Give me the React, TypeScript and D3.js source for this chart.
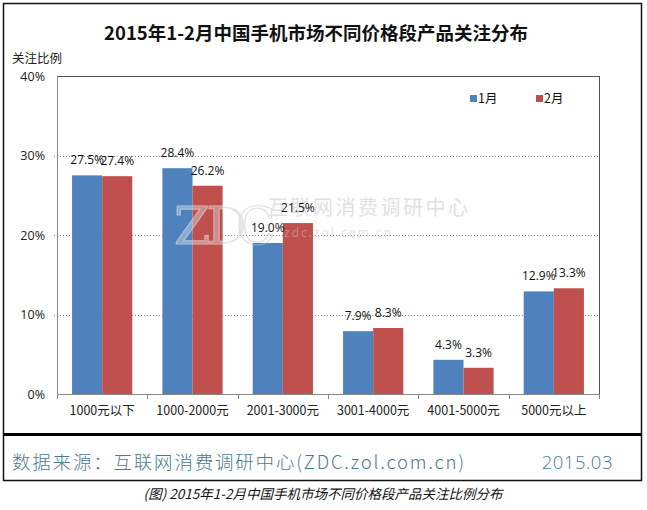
import React from "react";
import * as d3 from "d3";

const categories = ["1000元以下", "1000-2000元", "2001-3000元", "3001-4000元", "4001-5000元", "5000元以上"];
const seriesNames = ["1月", "2月"];
const jan = [27.5, 28.4, 19.0, 7.9, 4.3, 12.9];
const feb = [27.4, 26.2, 21.5, 8.3, 3.3, 13.3];
const yTicks = [0, 10, 20, 30, 40];
const colors = ["#4F81BD", "#C0504D"];

const W = 647;
const H = 510;
const plot = { left: 57, right: 599, top: 76, bottom: 394 };
const numFont = "'Open Sans', 'Noto Sans CJK SC', sans-serif";
const cjkFont = "'Noto Sans CJK SC', 'Open Sans', sans-serif";

export default function App() {
  const x = d3.scaleBand<string>().domain(categories).range([plot.left, plot.right]).paddingInner(0).paddingOuter(0);
  const inner = d3.scaleBand<string>().domain(seriesNames).range([0, x.bandwidth()]).paddingOuter(0.5).paddingInner(0);
  const y = d3.scaleLinear().domain([0, 40]).range([plot.bottom, plot.top]);
  const series = [jan, feb];
  const boundaries = d3.range(categories.length + 1).map((i) => plot.left + i * x.step());

  return (
    <svg width={W} height={H} style={{ position: "absolute", left: 0, top: 0, background: "#fff" }}>
      <rect x={0} y={0} width={W} height={H} fill="#fff" />
      {/* outer frame */}
      <rect x={3.5} y={3.5} width={638} height={477} fill="none" stroke="#111" strokeWidth={1.5} />
      <line x1={3} x2={642} y1={434.5} y2={434.5} stroke="#000" strokeWidth={3} />

      {/* title */}
      <text x={316} y={40} textAnchor="middle" fontFamily={cjkFont} fontWeight={700} fontSize={18.5} fill="#111">
        2015年1-2月中国手机市场不同价格段产品关注分布
      </text>
      <text x={12} y={63} fontFamily={cjkFont} fontSize={12.5} fill="#222">关注比例</text>

      {/* gridlines */}
      {yTicks.filter((t) => t > 0 && t < 40).map((t) => (
        <line key={t} x1={plot.left - 3} x2={plot.right} y1={Math.round(y(t)) + 0.5} y2={Math.round(y(t)) + 0.5}
          stroke="#8a8a8a" strokeDasharray="1,2" />
      ))}

      {/* bars */}
      {categories.map((c, i) => (
        <g key={c}>
          {series.map((s, j) => {
            const bx = (x(c) as number) + (inner(seriesNames[j]) as number);
            const bw = inner.bandwidth();
            return (
              <rect key={j} x={bx} y={y(s[i])} width={bw} height={plot.bottom - y(s[i])} fill={colors[j]} />
            );
          })}
        </g>
      ))}

      {/* watermark */}
      <g opacity={0.5}>
        <text x={174} y={244} fontFamily="'DejaVu Serif', serif" fontSize={52} letterSpacing={-4} fill="#c9d0da" stroke="#ffffff" strokeWidth={1.2}>ZD</text>
        <text x={236} y={244} fontFamily="'DejaVu Serif', serif" fontSize={52} fill="none" stroke="#c4c4c4" strokeWidth={1.2}>C</text>
        <text x={268} y={215} fontFamily={cjkFont} fontSize={20} letterSpacing={2.5} fill="#c4c4c4">互联网消费调研中心</text>
        <text x={284} y={237} fontFamily={numFont} fontSize={12} letterSpacing={2} fill="#c4c4c4">zdc.zol.com.cn</text>
      </g>

      {/* value labels */}
      {categories.map((c, i) => (
        <g key={c}>
          {series.map((s, j) => {
            const bx = (x(c) as number) + (inner(seriesNames[j]) as number);
            const bw = inner.bandwidth();
            return (
              <text key={j} x={bx + bw / 2} y={y(s[i]) - 11} textAnchor="middle" fontFamily={numFont} fontSize={12} fill="#111">
                {s[i].toFixed(1)}%
              </text>
            );
          })}
        </g>
      ))}

      {/* plot frame */}
      <rect x={plot.left + 0.5} y={plot.top + 0.5} width={plot.right - plot.left} height={plot.bottom - plot.top}
        fill="none" stroke="#555" strokeWidth={1} />
      <line x1={plot.left} x2={plot.right} y1={plot.bottom + 0.5} y2={plot.bottom + 0.5} stroke="#888" />
      <line x1={plot.left + 0.5} x2={plot.left + 0.5} y1={plot.top} y2={plot.bottom} stroke="#888" />
      {boundaries.map((b, i) => (
        <line key={i} x1={Math.round(b) + 0.5} x2={Math.round(b) + 0.5} y1={plot.bottom} y2={plot.bottom + 5} stroke="#888" />
      ))}

      {/* y labels */}
      {yTicks.map((t) => (
        <text key={t} x={45} y={y(t) + 4.5} textAnchor="end" fontFamily={numFont} fontSize={12.5} fill="#222">{t}%</text>
      ))}

      {/* x labels */}
      {categories.map((c) => (
        <text key={c} x={(x(c) as number) + x.bandwidth() / 2} y={415} textAnchor="middle" fontFamily={cjkFont} fontSize={12.5} fill="#222">
          {c}
        </text>
      ))}

      {/* legend */}
      {seriesNames.map((n, j) => (
        <g key={n} transform={`translate(${470 + j * 66},95)`}>
          <rect x={0} y={0} width={7} height={7} fill={colors[j]} />
          <text x={8} y={8} fontFamily={cjkFont} fontSize={12.5} fill="#111">{n}</text>
        </g>
      ))}

      {/* footer */}
      <text x={12} y={469} fontFamily={cjkFont} fontSize={18.5} letterSpacing={1.8} fill="#4a7b93" fontWeight={300}>
        数据来源：互联网消费调研中心(ZDC.zol.com.cn)
      </text>
      <text x={613} y={469} textAnchor="end" fontFamily={numFont} fontSize={18.5} letterSpacing={0.5} fill="#4a7b93" fontWeight={300}>2015.03</text>

      {/* caption */}
      <text x={323} y={499} textAnchor="middle" fontFamily={cjkFont} fontStyle="italic" fontSize={13.5} fill="#111">
        (图) 2015年1-2月中国手机市场不同价格段产品关注比例分布
      </text>
    </svg>
  );
}
